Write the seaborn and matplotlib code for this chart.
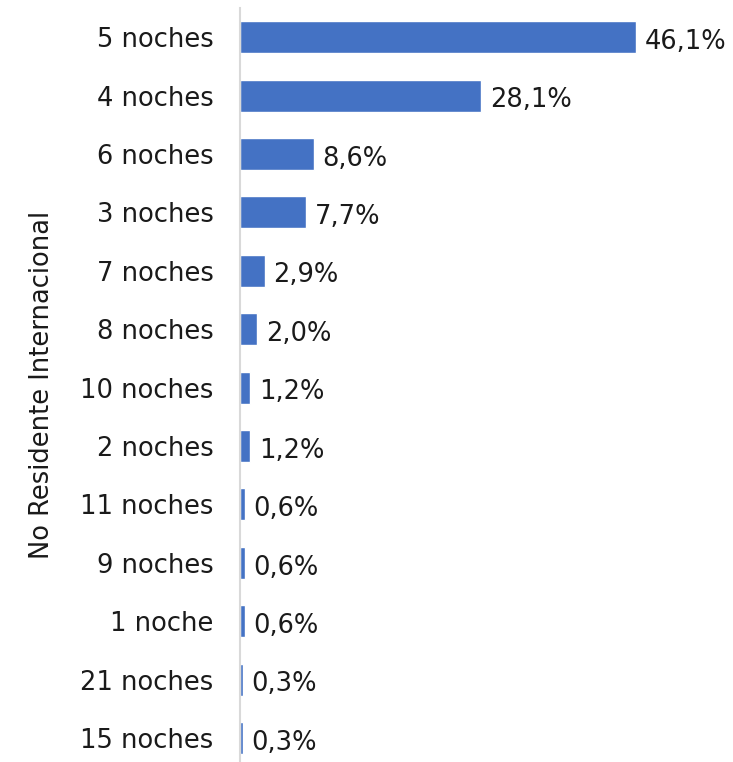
import matplotlib
matplotlib.use("Agg")
import matplotlib.pyplot as plt
import seaborn as sns
import pandas as pd

categories = ["5 noches", "4 noches", "6 noches", "3 noches", "7 noches", "8 noches",
              "10 noches", "2 noches", "11 noches", "9 noches", "1 noche",
              "21 noches", "15 noches"]
shares = [46.1, 28.1, 8.6, 7.7, 2.9, 2.0, 1.2, 1.2, 0.6, 0.6, 0.6, 0.3, 0.3]
axis_title = "No Residente Internacional"

df = pd.DataFrame({"noches": categories, "pct": shares})

sns.set_theme(style="white")
plt.rcParams["font.family"] = ["DejaVu Sans"]

W, H = 733, 762
FS = 18.5
fig = plt.figure(figsize=(W / 100, H / 100), dpi=100)
ax = fig.add_axes([240 / W, 0, (W - 240) / W, 1 - 8 / H])

sns.barplot(data=df, x="pct", y="noches", orient="h", color="#4472C4",
            saturation=1, width=0.55, ax=ax)

ax.set_xlim(0, 57.4)
ax.set_ylim(12.41, -0.5)

for i, v in enumerate(shares):
    ax.text(v + 1.0, i + 0.08, f"{v:.1f}%".replace(".", ","), va="center", ha="left",
            fontsize=FS, color="#1a1a1a")

ax.set_xticks([])
ax.set_xlabel("")
ax.tick_params(axis="y", length=0, pad=19, labelsize=FS, labelcolor="#1a1a1a")
ax.set_ylabel(axis_title, fontsize=FS, color="#1a1a1a", labelpad=18)

for s in ["top", "right", "bottom"]:
    ax.spines[s].set_visible(False)
ax.spines["left"].set_color("#d9d9d9")
ax.spines["left"].set_linewidth(1.5)

fig.savefig("out.png", dpi=100)
